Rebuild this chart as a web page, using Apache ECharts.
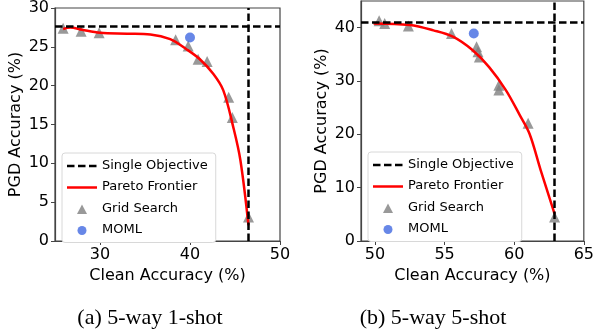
<!DOCTYPE html>
<html>
<head>
<meta charset="utf-8">
<script src="https://cdn.jsdelivr.net/npm/echarts@6/dist/echarts.min.js"></script>
<style>
html,body{margin:0;padding:0;background:#fff;}
#chart{width:597px;height:336px;}
</style>
</head>
<body>
<div id="chart"></div>
<script>
// ---- Data: (a) 5-way 1-shot ----
const gridA_x = [25.9, 27.9, 29.9, 38.4, 39.8, 40.9, 41.9, 44.3, 44.7, 46.5];
const gridA_y = [27.4, 27.0, 26.8, 25.9, 25.1, 23.4, 23.1, 18.5, 15.9, 3.1];
const momlA = [40.0, 26.2];
const singleA = { y: 27.6, x: 46.5 };
const paretoA_x = [25.9, 26.7, 28.0, 30.0, 33.0, 35.6, 37.8, 39.6, 41.1, 42.6, 43.7, 44.8, 45.6, 46.5];
const paretoA_y = [27.3, 27.5, 27.2, 26.8, 26.7, 26.6, 26.0, 24.7, 23.4, 21.5, 19.4, 14.7, 10.4, 2.0];

// ---- Data: (b) 5-way 5-shot ----
const gridB_x = [50.3, 50.7, 52.4, 55.5, 57.3, 57.4, 57.5, 58.9, 58.9, 61.0, 62.9];
const gridB_y = [41.3, 40.8, 40.3, 38.9, 36.4, 35.5, 34.5, 29.2, 28.3, 22.1, 4.5];
const momlB = [57.1, 38.9];
const singleB = { y: 41.0, x: 62.9 };
const paretoB_x = [49.9, 52.5, 54.2, 55.6, 57.0, 58.2, 59.4, 60.4, 61.1, 61.9, 62.9];
const paretoB_y = [40.8, 40.5, 39.5, 38.3, 35.8, 32.6, 28.3, 23.6, 20.1, 13.3, 5.1];

// ---- Axis ticks ----
const xTicksA = [30, 40, 50];
const yTicksA = [0, 5, 10, 15, 20, 25, 30];
const xTicksB = [50, 55, 60, 65];
const yTicksB = [0, 10, 20, 30, 40];

const captions = ['(a) 5-way 1-shot', '(b) 5-way 5-shot'];
const legendNames = ['Single Objective', 'Pareto Frontier', 'Grid Search', 'MOML'];

const zip = (a, b) => a.map((v, i) => [v, b[i]]);
const FONT = 'DejaVu Sans';
const AX = '#444';

// legend icons drawn inside a 30x11 box (invisible corner moves keep the box size)
const BOX = 'M0,0 M30,11 ';
const DASH_ICON = 'path://' + BOX + 'M0,4.75 L7.5,4.75 L7.5,7.25 L0,7.25 Z M11,4.75 L18.5,4.75 L18.5,7.25 L11,7.25 Z M22,4.75 L29.5,4.75 L29.5,7.25 L22,7.25 Z';
const LINE_ICON = 'path://' + BOX + 'M0,4.75 L30,4.75 L30,7.25 L0,7.25 Z';
const TRI_ICON = 'path://' + BOX + 'M10,11 L15,1.5 L20,11 Z';
const CIRC_ICON = 'path://' + BOX + 'M10.5,6 A4.5,4.5 0 1 0 19.5,6 A4.5,4.5 0 1 0 10.5,6 Z';

function xAxisCfg(idx, min, max, ticks) {
  return {
    gridIndex: idx, type: 'value', min: min, max: max,
    name: 'Clean Accuracy (%)', nameLocation: 'middle', nameGap: 24,
    nameTextStyle: { fontFamily: FONT, fontSize: 16, color: '#000' },
    axisLine: { show: true, onZero: false, lineStyle: { color: AX, width: 1.2 } },
    axisTick: { show: true, inside: false, length: 4, customValues: ticks, lineStyle: { color: AX, width: 1 } },
    axisLabel: { customValues: ticks, fontFamily: FONT, fontSize: 16, color: '#000', margin: 6 },
    splitLine: { show: false }
  };
}
function yAxisCfg(idx, min, max, ticks) {
  return {
    gridIndex: idx, type: 'value', min: min, max: max,
    name: 'PGD Accuracy (%)', nameLocation: 'middle', nameGap: 31,
    nameTextStyle: { fontFamily: FONT, fontSize: 16, color: '#000' },
    axisLine: { show: true, onZero: false, lineStyle: { color: AX, width: 1.2 } },
    axisTick: { show: true, inside: false, length: 4, customValues: ticks, lineStyle: { color: AX, width: 1 } },
    axisLabel: { customValues: ticks, fontFamily: FONT, fontSize: 16, color: '#000', margin: 6 },
    splitLine: { show: false }
  };
}
function seriesFor(idx, single, px, py, gx, gy, moml) {
  return [
    {
      name: 'Single Objective', type: 'line', xAxisIndex: idx, yAxisIndex: idx,
      data: [], symbol: 'none', showSymbol: false, z: 5,
      lineStyle: { color: '#000', width: 2.5, type: [7.5, 3.5] },
      itemStyle: { color: '#000' },
      markLine: {
        silent: true, symbol: ['none', 'none'], label: { show: false },
        lineStyle: { color: '#000', width: 2.5, type: [7.5, 3.5] },
        data: [{ yAxis: single.y }, { xAxis: single.x }]
      }
    },
    {
      name: 'Grid Search', type: 'scatter', xAxisIndex: idx, yAxisIndex: idx,
      data: zip(gx, gy), symbol: 'triangle', symbolSize: 11, z: 3,
      itemStyle: { color: '#808080' }
    },
    {
      name: 'Pareto Frontier', type: 'line', xAxisIndex: idx, yAxisIndex: idx,
      data: zip(px, py), smooth: 0.35, symbol: 'none', showSymbol: false, z: 4,
      lineStyle: { color: '#ff0000', width: 2.5 },
      itemStyle: { color: '#ff0000' }
    },
    {
      name: 'MOML', type: 'scatter', xAxisIndex: idx, yAxisIndex: idx,
      data: [moml], symbol: 'circle', symbolSize: 10, z: 4,
      itemStyle: { color: '#4169e1' }
    }
  ];
}
function legendCfg(left, top) {
  return {
    orient: 'vertical', left: left, top: top,
    data: [
      { name: legendNames[0], icon: DASH_ICON },
      { name: legendNames[1], icon: LINE_ICON },
      { name: legendNames[2], icon: TRI_ICON },
      { name: legendNames[3], icon: CIRC_ICON }
    ],
    itemWidth: 30, itemHeight: 11, itemGap: 8.5,
    padding: [6, 8, 6, 5],
    backgroundColor: '#fff', borderColor: '#d8d8d8', borderWidth: 1, borderRadius: 3,
    textStyle: { fontFamily: FONT, fontSize: 13, color: '#000' },
    selectedMode: false
  };
}

const chart = echarts.init(document.getElementById('chart'), null, { renderer: 'canvas' });
chart.setOption({
  animation: false,
  backgroundColor: '#fff',
  title: [
    { text: captions[0], left: 145, top: 302, textAlign: 'center',
      textStyle: { fontFamily: 'Liberation Serif', fontSize: 22, fontWeight: 'normal', color: '#000' } },
    { text: captions[1], left: 428, top: 302, textAlign: 'center',
      textStyle: { fontFamily: 'Liberation Serif', fontSize: 22, fontWeight: 'normal', color: '#000' } }
  ],
  grid: [
    { left: 55, top: 6, width: 225, height: 235, show: true, borderColor: AX, borderWidth: 1.2, backgroundColor: 'transparent' },
    { left: 361, top: 1, width: 225, height: 240, show: true, borderColor: AX, borderWidth: 1.2, backgroundColor: 'transparent' }
  ],
  xAxis: [xAxisCfg(0, 25, 50, xTicksA), xAxisCfg(1, 49, 65, xTicksB)],
  yAxis: [yAxisCfg(0, 0, 30, yTicksA), yAxisCfg(1, 0, 45, yTicksB)],
  legend: [legendCfg(62, 153), legendCfg(368, 152)],
  series: [].concat(
    seriesFor(0, singleA, paretoA_x, paretoA_y, gridA_x, gridA_y, momlA),
    seriesFor(1, singleB, paretoB_x, paretoB_y, gridB_x, gridB_y, momlB)
  )
});
</script>
</body>
</html>
